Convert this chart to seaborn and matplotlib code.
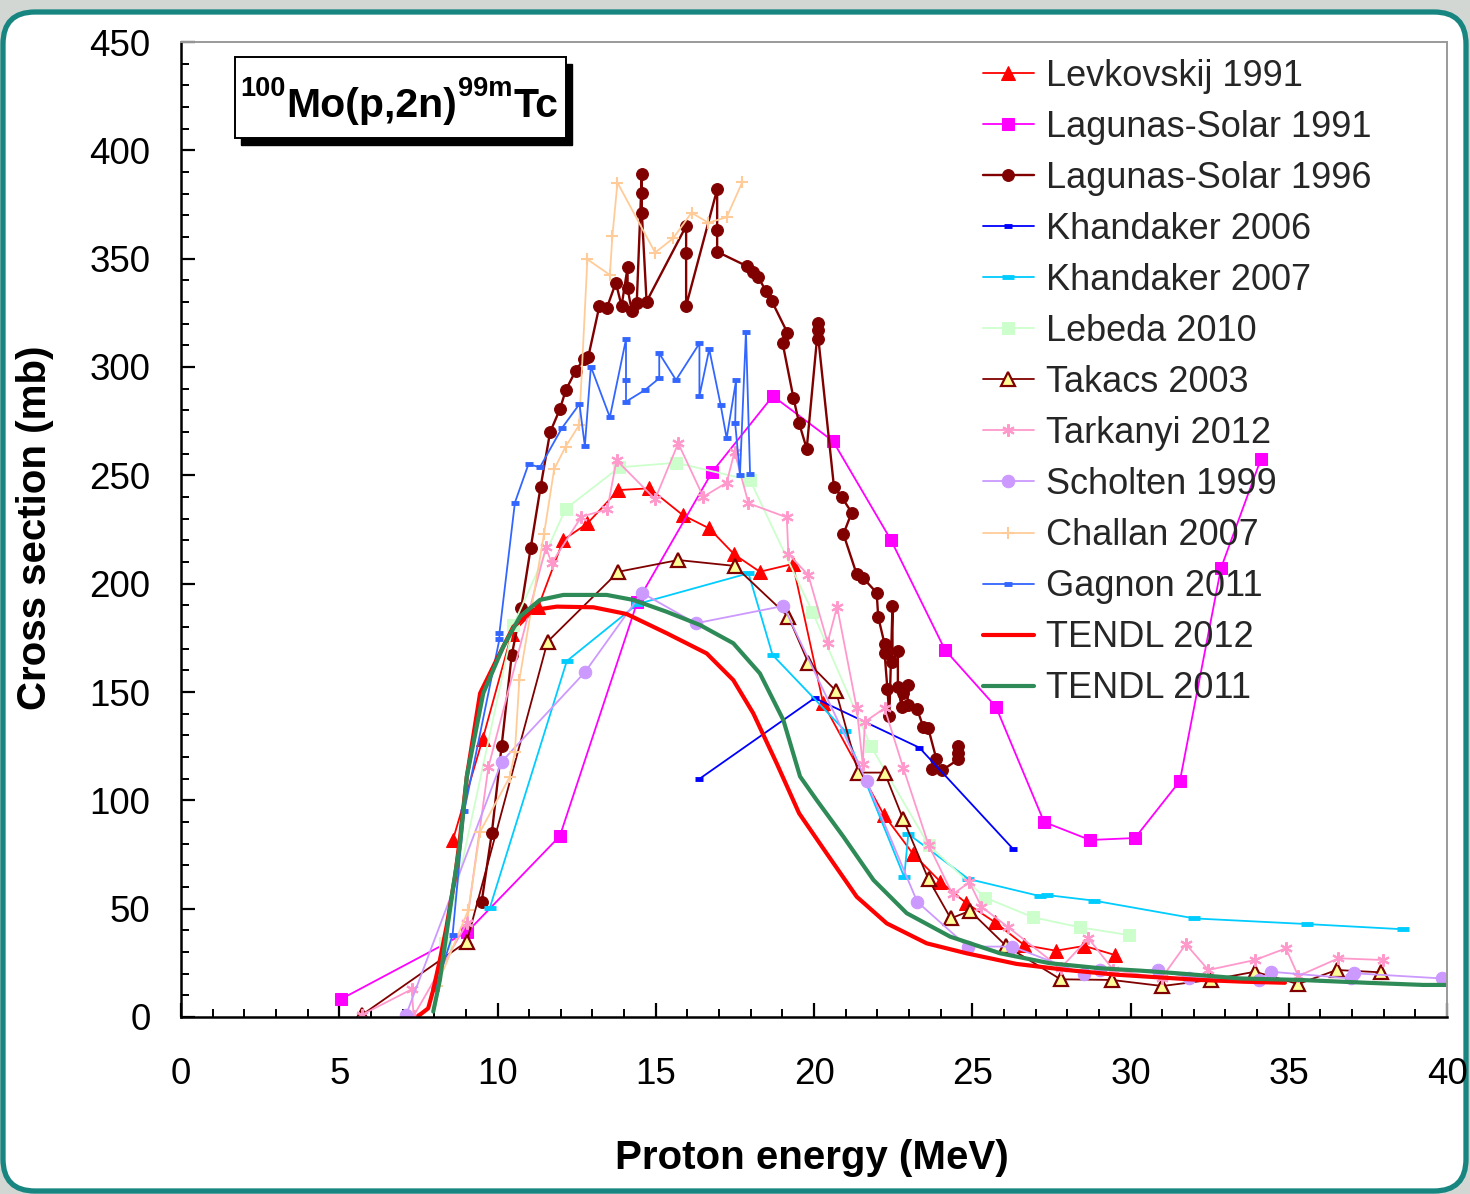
import matplotlib
matplotlib.use("Agg")
import matplotlib.pyplot as plt
from matplotlib.patches import FancyBboxPatch, Rectangle
from matplotlib.transforms import IdentityTransform
from matplotlib.ticker import MultipleLocator
import seaborn as sns

sns.set_theme(style="white")
plt.rcParams["font.family"] = ["Liberation Sans", "DejaVu Sans"]

# ---- measured cross sections: proton energy (MeV) / cross section (mb) ----
levk_e = [8.59, 9.53, 10.45, 11.29, 12.08, 12.84, 13.82, 14.80, 15.85, 16.69, 17.48, 18.29,
          19.33, 20.29, 22.21, 23.14, 23.99, 24.79, 25.72, 26.64, 27.64, 28.54, 29.51]
levk_xs = [81.7, 128.2, 177.0, 189.4, 220.2, 227.8, 243.2, 244.0, 231.7, 225.5, 213.5, 205.5,
           209.1, 144.8, 93.2, 75.1, 62.5, 52.8, 43.7, 33.2, 30.6, 32.8, 28.6]

lag91_e = [5.06, 9.04, 11.97, 14.42, 16.78, 18.70, 20.60, 22.43, 24.14, 25.75, 27.27, 28.72,
           30.14, 31.56, 32.86, 34.12]
lag91_xs = [8.3, 39.2, 83.5, 191.7, 251.5, 286.6, 265.8, 220.2, 169.4, 143.1, 90.0, 81.7,
            82.6, 108.9, 207.2, 257.5]

lag96_e = [9.50, 9.82, 10.13, 10.45, 10.75, 11.05, 11.36, 11.66, 11.97, 12.16, 12.47, 12.73,
           12.87, 13.22, 13.45, 13.74, 13.92, 14.11, 14.11, 14.24, 14.40, 14.56, 14.56, 14.56,
           14.71, 15.96, 15.96, 15.96, 16.94, 16.94, 16.94, 17.87, 18.06, 18.24, 18.48, 18.66,
           19.16, 19.01, 19.35, 19.53, 19.77, 20.14, 20.14, 20.14, 20.63, 20.87, 21.19, 20.93,
           21.35, 21.56, 21.98, 22.03, 22.23, 22.23, 22.32, 22.38, 22.48, 22.48, 22.65, 22.65,
           22.77, 22.80, 22.96, 22.96, 23.26, 23.45, 23.61, 23.87, 23.72, 24.06, 24.56, 24.56,
           24.56]
lag96_xs = [53.2, 84.8, 125.1, 167.1, 188.9, 216.6, 244.5, 269.8, 280.5, 289.4, 298.3, 303.7,
            304.8, 328.2, 327.1, 338.9, 328.2, 346.0, 336.3, 326.0, 329.7, 389.1, 380.2, 371.2,
            330.2, 365.1, 352.5, 328.2, 382.0, 363.2, 353.2, 346.6, 344.0, 341.4, 335.1, 330.6,
            315.8, 310.9, 285.8, 274.0, 262.3, 320.2, 317.1, 312.8, 244.8, 240.1, 232.8, 222.9,
            204.3, 202.5, 195.8, 184.5, 172.2, 168.1, 151.3, 138.9, 189.7, 164.0, 169.1, 152.5,
            142.9, 149.4, 153.1, 144.0, 142.0, 134.0, 133.2, 118.9, 114.3, 114.0, 118.9, 122.0,
            125.1]

kh06_e = [16.37, 20.02, 23.33, 26.30]
kh06_xs = [109.8, 147.2, 124.3, 77.4]

kh07_e = [9.76, 12.19, 14.42, 17.93, 18.69, 20.98, 22.85, 22.98, 24.88, 27.14, 27.35, 28.85,
          32.02, 35.57, 38.60]
kh07_xs = [50.5, 164.3, 190.6, 204.8, 167.1, 132.1, 64.6, 84.5, 63.7, 55.8, 56.3, 53.7,
           45.5, 42.9, 40.5]

leb_e = [8.34, 10.50, 12.15, 13.85, 15.64, 17.98, 19.95, 21.79, 23.62, 25.40, 26.93, 28.40, 29.95]
leb_xs = [34.3, 180.9, 234.5, 253.7, 255.8, 247.8, 187.0, 125.1, 79.4, 55.1, 46.0, 41.4, 37.8]

tak_e = [5.71, 9.03, 11.58, 13.82, 15.71, 17.49, 19.19, 19.82, 20.69, 21.40, 22.23, 22.82,
         23.62, 24.32, 24.93, 26.07, 27.79, 29.41, 31.00, 32.53, 33.93, 35.30, 36.51, 37.93]
tak_xs = [0.9, 34.8, 173.2, 205.5, 210.9, 208.2, 184.8, 163.5, 150.6, 112.8, 112.8, 91.2,
          63.5, 45.5, 49.0, 32.8, 17.4, 17.1, 14.3, 17.1, 20.9, 15.2, 21.7, 20.6]

tark_e = [5.71, 7.29, 7.35, 9.03, 9.71, 11.53, 11.71, 12.65, 13.47, 13.76, 14.98, 15.71, 16.50,
          17.24, 17.49, 17.93, 19.14, 19.19, 19.82, 20.43, 20.73, 21.35, 21.54, 21.61, 22.23,
          22.82, 23.62, 24.38, 24.91, 25.29, 26.14, 27.79, 28.67, 29.46, 30.98, 31.75, 32.46,
          33.93, 34.91, 35.30, 36.57, 37.99]
tark_xs = [1.0, 12.8, 0.5, 43.2, 115.2, 216.8, 209.4, 230.9, 234.3, 257.0, 239.0, 264.8, 240.1,
           246.6, 260.9, 237.1, 230.6, 213.7, 204.0, 172.8, 189.4, 142.5, 116.8, 136.3, 142.5,
           115.0, 79.4, 56.6, 62.2, 50.9, 41.4, 22.5, 36.3, 21.7, 17.9, 33.6, 21.7,
           26.3, 31.7, 18.9, 27.1, 26.3]

scho_e = [7.11, 10.13, 12.76, 14.56, 16.26, 19.03, 21.66, 23.26, 24.85, 26.27, 28.54, 29.04,
          30.88, 31.86, 34.07, 34.43, 36.96, 37.06, 39.83]
scho_xs = [0.9, 117.8, 159.1, 195.8, 181.7, 189.7, 108.9, 53.2, 32.5, 32.5, 19.8, 21.7,
           21.7, 18.2, 17.1, 20.9, 17.8, 20.2, 17.8]

chal_e = [8.08, 9.08, 9.45, 10.39, 10.55, 10.69, 11.47, 11.79, 12.15, 12.58, 12.84, 13.55,
          13.63, 13.79, 14.98, 15.55, 16.13, 16.66, 17.24, 17.74]
chal_xs = [14.3, 49.4, 85.5, 110.9, 122.4, 155.5, 222.9, 252.8, 263.2, 273.2, 349.7, 342.5,
           360.4, 385.1, 352.8, 359.4, 371.2, 366.6, 369.1, 385.5]

gag_e = [8.03, 8.58, 8.95, 10.06, 10.06, 10.55, 10.98, 11.34, 12.03, 12.59, 12.76, 12.95,
         13.55, 14.06, 14.06, 14.06, 14.66, 15.11, 15.11, 15.64, 16.38, 16.38, 16.69, 17.05,
         17.24, 17.54, 17.51, 17.66, 17.85, 17.98]
gag_xs = [12.8, 37.8, 95.2, 174.3, 177.1, 237.4, 255.2, 253.7, 271.7, 282.9, 263.5, 300.2,
          276.8, 312.8, 294.0, 284.0, 289.4, 294.8, 306.3, 294.0, 310.9, 286.6, 308.2, 282.5,
          267.1, 294.0, 274.0, 250.2, 316.3, 250.6]

# ---- TENDL evaluations ----
t12_e = [7.50, 7.81, 7.97, 8.18, 8.39, 8.66, 8.82, 9.03, 9.45, 9.97, 10.50, 11.13, 11.87,
         13.03, 14.08, 15.35, 16.61, 17.45, 18.08, 18.82, 19.53, 20.40, 21.35, 22.30, 23.56,
         24.82, 26.40, 27.98, 29.57, 32.20, 33.56, 34.88]
t12_xs = [0.5, 4.0, 12.5, 26.3, 41.7, 64.8, 83.2, 110.9, 149.4, 164.8, 180.1, 187.8, 189.4,
          189.1, 186.0, 177.1, 167.8, 155.5, 140.2, 117.1, 94.0, 75.5, 55.5, 43.2, 34.0,
          29.4, 24.5, 21.7, 19.5, 17.1, 16.3, 15.8]

t11_e = [7.97, 8.18, 8.39, 8.60, 8.82, 9.03, 9.55, 10.18, 10.71, 11.34, 12.08, 13.45, 14.29,
         15.35, 16.40, 17.45, 18.29, 19.03, 19.56, 20.09, 20.93, 21.88, 22.93, 24.30, 25.88,
         27.46, 29.04, 30.30, 31.46, 33.46, 35.36, 37.46, 39.25, 40.0]
t11_xs = [2.5, 17.1, 38.6, 60.1, 80.2, 110.9, 149.4, 170.9, 184.8, 192.5, 194.8, 194.8, 192.5,
          187.0, 180.9, 172.5, 158.6, 137.1, 111.0, 100.0, 83.2, 63.2, 47.9, 37.1, 29.4,
          24.8, 22.5, 21.4, 20.2, 17.8, 17.1, 15.8, 14.8, 14.8]

x_ticks = [0, 5, 10, 15, 20, 25, 30, 35, 40]
y_ticks = [0, 50, 100, 150, 200, 250, 300, 350, 400, 450]

# reaction label pieces: (text, font size, raised as superscript)
reaction_parts = [("100", 19.5, True), ("Mo(p,2n)", 29.5, False), ("99m", 19.5, True),
                  ("Tc", 29.5, False)]

# ---- figure with rounded teal frame ----
fig = plt.figure(figsize=(14.7, 11.94), dpi=100)
fig.patch.set_facecolor("#d3d7d3")
frame = FancyBboxPatch((3, 3), 1463, 1179, boxstyle="round,pad=0,rounding_size=32",
                       transform=IdentityTransform(), facecolor="white",
                       edgecolor="#178580", linewidth=3.8, zorder=-10)
fig.add_artist(frame)

ax = fig.add_axes([181 / 1470, 177 / 1194, 1266 / 1470, 975 / 1194])
ax.set_facecolor("white")

handles = []


def draw(e, xs, label, color, lw=1.3, **kw):
    sns.lineplot(x=e, y=xs, sort=False, estimator=None, ax=ax, color=color,
                 linewidth=lw, label=label, **kw)
    handles.append(ax.lines[-1])


draw(levk_e, levk_xs, "Levkovskij 1991", "#ff0000", marker="^", markersize=10,
     markeredgecolor="#ff0000", markerfacecolor="#ff0000")
draw(lag91_e, lag91_xs, "Lagunas-Solar 1991", "#ff00ff", marker="s", markersize=8,
     markeredgecolor="#ff00ff", markerfacecolor="#ff00ff")
draw(lag96_e, lag96_xs, "Lagunas-Solar 1996", "#800000", lw=1.7, marker="o", markersize=8.5,
     markeredgecolor="#800000", markerfacecolor="#800000")
draw(kh06_e, kh06_xs, "Khandaker 2006", "#0000ff", marker="_", markersize=6,
     markeredgewidth=3.5, markeredgecolor="#0000ff")
draw(kh07_e, kh07_xs, "Khandaker 2007", "#00ccff", marker="_", markersize=9,
     markeredgewidth=3.5, markeredgecolor="#00ccff")
draw(leb_e, leb_xs, "Lebeda 2010", "#ccffcc", marker="s", markersize=9,
     markeredgecolor="#ccffcc", markerfacecolor="#ccffcc")
draw(tak_e, tak_xs, "Takacs 2003", "#800000", marker="^", markersize=10,
     markeredgecolor="#800000", markerfacecolor="#ffff99", markeredgewidth=1.6)
draw(tark_e, tark_xs, "Tarkanyi 2012", "#ff99cc", marker=(6, 2, 0), markersize=9,
     markeredgecolor="#ff99cc", markeredgewidth=1.5)
draw(scho_e, scho_xs, "Scholten 1999", "#cc99ff", marker="o", markersize=9,
     markeredgecolor="#cc99ff", markerfacecolor="#cc99ff")
draw(chal_e, chal_xs, "Challan 2007", "#ffcc99", marker="+", markersize=9,
     markeredgecolor="#ffcc99", markeredgewidth=1.5)
draw(gag_e, gag_xs, "Gagnon 2011", "#3366ff", marker="_", markersize=6,
     markeredgewidth=3.5, markeredgecolor="#3366ff")
draw(t12_e, t12_xs, "TENDL 2012", "#ff0000", lw=3.0)
draw(t11_e, t11_xs, "TENDL 2011", "#2e8b57", lw=3.0)

# ---- axes ----
ax.set_xlim(0, 40)
ax.set_ylim(0, 450)
ax.set_xticks(x_ticks)
ax.set_yticks(y_ticks)
ax.xaxis.set_minor_locator(MultipleLocator(1))
ax.yaxis.set_minor_locator(MultipleLocator(10))
ax.tick_params(which="major", direction="in", length=10, width=1.6, colors="black",
               labelsize=26.5, bottom=True, left=True, top=False, right=False)
ax.tick_params(axis="x", which="major", pad=29)
ax.tick_params(axis="y", which="major", pad=22)
ax.tick_params(which="minor", direction="in", length=6, width=1.4, colors="black",
               bottom=True, left=True, top=False, right=False)

for side in ("left", "bottom"):
    ax.spines[side].set_color("black")
    ax.spines[side].set_linewidth(1.8)
for side in ("top", "right"):
    ax.spines[side].set_color("#9a9a9a")
    ax.spines[side].set_linewidth(1.4)

ax.set_xlabel("Proton energy (MeV)", fontsize=29, fontweight="bold", color="black")
ax.set_ylabel("Cross section (mb)", fontsize=29, fontweight="bold", color="black")
ax.xaxis.set_label_coords(0.498, -0.125)
ax.yaxis.set_label_coords(-0.1005, 0.5015)

# ---- reaction label box with drop shadow ----
bx, by, bw, bh = 0.0427, 0.9015, 0.2612, 0.0835
ax.add_patch(Rectangle((bx + 0.0047, by - 0.0072), bw, bh, transform=ax.transAxes,
                       facecolor="black", edgecolor="black", zorder=8, clip_on=False))
ax.add_patch(Rectangle((bx, by), bw, bh, transform=ax.transAxes, facecolor="white",
                       edgecolor="black", linewidth=1.4, zorder=9, clip_on=False))

renderer = fig.canvas.get_renderer()
x_off = 0.0
for text, size, sup in reaction_parts:
    t = ax.annotate(text, xy=(0.0466, 0.9228), xycoords="axes fraction",
                    xytext=(x_off, 21 if sup else 0), textcoords="offset pixels",
                    ha="left", va="baseline", fontsize=size, fontweight="bold",
                    color="black", zorder=10, annotation_clip=False)
    x_off += t.get_window_extent(renderer).width + 1

# ---- legend ----
ax.legend(handles=handles, labels=[h.get_label() for h in handles], loc="upper left",
          bbox_to_anchor=(0.6335, 0.983), frameon=False, fontsize=26, handlelength=1.4,
          handletextpad=0.35, labelspacing=0.445, borderpad=0, borderaxespad=0,
          numpoints=1)

fig.savefig("out.png", dpi=100, facecolor=fig.get_facecolor())
